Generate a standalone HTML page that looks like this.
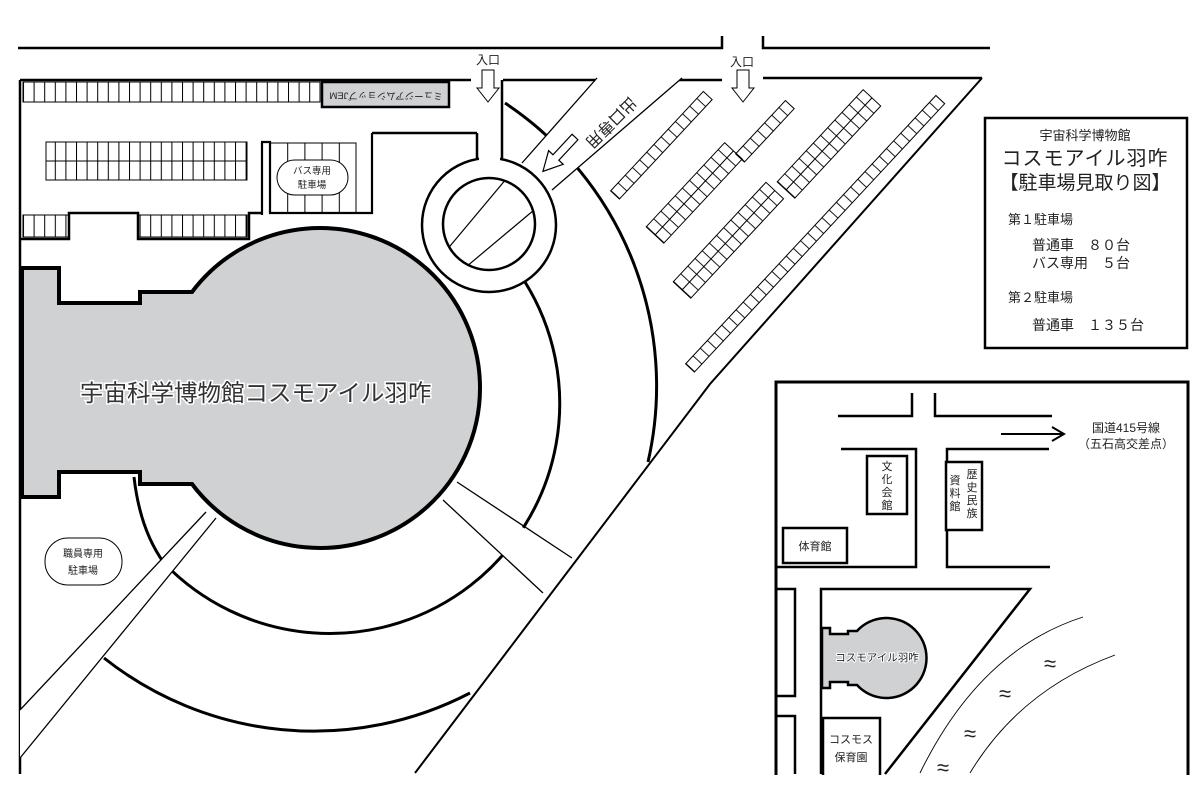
<!DOCTYPE html>
<html><head><meta charset="utf-8"><style>
html,body{margin:0;padding:0;background:#fff}
svg{display:block}
text{font-family:"Liberation Sans","Noto Sans CJK JP",sans-serif;fill:#222}
</style></head><body>
<svg width="1198" height="786" viewBox="0 0 1198 786" xmlns="http://www.w3.org/2000/svg">
<defs>
<pattern id="pt" patternUnits="userSpaceOnUse" x="23" y="0" width="10.6" height="200"><line x1="0.5" y1="0" x2="0.5" y2="200" stroke="#000" stroke-width="1"/></pattern>
<pattern id="pb" patternUnits="userSpaceOnUse" x="270" y="0" width="17.2" height="200"><line x1="0.5" y1="0" x2="0.5" y2="200" stroke="#000" stroke-width="1"/></pattern>
<pattern id="pd" patternUnits="userSpaceOnUse" x="0" y="0" width="10.5" height="200"><line x1="0.5" y1="-100" x2="0.5" y2="200" stroke="#000" stroke-width="0.9"/></pattern>
<clipPath id="inner"><circle cx="489" cy="224" r="46"/></clipPath>
</defs>
<g fill="none" stroke="#000" stroke-linecap="butt">
<path d="M18,48 H722 V36 M763,36 V48 H990" stroke-width="2.5"/>
<path d="M20,80 H471 M503,80 H722 M763,78 H982" stroke-width="2.5"/>
<polyline points="982,78 710,384 415,773" stroke-width="2"/>
<path d="M20,80 V774" stroke-width="2.5"/>
<path d="M505,103 A340 340 0 0 1 648,462" stroke-width="3"/>
<path d="M470,693 A338 338 0 0 1 104,658" stroke-width="3"/>
<path d="M525,282 A230 230 0 0 1 164,563 Q140,530 134,477" stroke-width="3"/>
</g>
<polygon points="597,78 682,78 552,190 522,163" fill="#fff"/>
<path d="M597,78 L522,163 M682,78 L552,190" stroke="#000" stroke-width="1.3" fill="none"/>
<polygon points="0,-4 28,-4 28,-10 47,0 28,10 28,4 0,4" transform="translate(575,137) rotate(133)" fill="#fff" stroke="#000" stroke-width="1.2"/>
<text transform="translate(630,96) rotate(135)" font-size="16">出口専用</text>
<path d="M477,133 V158 M502,80 V158" stroke="#000" stroke-width="2.5"/>
<path d="M372,133 H477" stroke="#000" stroke-width="2.5"/>
<circle cx="489" cy="225" r="67" fill="#fff" stroke="#000" stroke-width="2.5"/>
<rect x="479" y="153" width="21" height="10" fill="#fff"/>
<circle cx="489" cy="224" r="46" fill="#fff" stroke="#000" stroke-width="2.5"/>
<g clip-path="url(#inner)" stroke="#000" stroke-width="1.2">
<line x1="440" y1="258" x2="512" y2="172"/><line x1="460" y1="272" x2="540" y2="205"/>
</g>
<polygon points="457,482 570,560 543,593 443,500" fill="#fff"/>
<path d="M457,482 L572,558 M443,500 L543,593" stroke="#000" stroke-width="1.3" fill="none"/>
<polygon points="206,512 216,518 20,758 20,710" fill="#fff"/>
<path d="M206,512 L20,710 M216,518 L20,758" stroke="#000" stroke-width="1.3" fill="none"/>
<path d="M22,268 H59 V303 H140 V292 H192 A160 160 0 1 1 192,484 H140 V472 H59 V497 H22 Z" fill="#cfd1d3" stroke="#000" stroke-width="4"/>
<text x="80" y="401" font-size="23.5" stroke="#fff" stroke-width="3" paint-order="stroke" style="fill:#333">宇宙科学博物館コスモアイル羽咋</text>
<rect x="23" y="82" width="297" height="20" fill="url(#pt)" stroke="#000" stroke-width="1"/>
<rect x="322" y="82" width="127" height="25" fill="#cfd1d3" stroke="#000" stroke-width="2.5"/>
<text transform="translate(386,95) rotate(180)" font-size="9.5" text-anchor="middle" dominant-baseline="middle">ミュージアムショップJEM</text>
<rect x="46" y="142" width="201" height="38" fill="url(#pt)" stroke="#000" stroke-width="1"/>
<line x1="46" y1="161" x2="247" y2="161" stroke="#000" stroke-width="1"/>
<rect x="270" y="143" width="86" height="70" fill="url(#pb)" stroke="#000" stroke-width="1"/>
<path d="M262,215 V142 H270 V213 H372 V133" fill="none" stroke="#000" stroke-width="2.2"/>
<rect x="277" y="160" width="71" height="35" rx="17.5" fill="#fff" stroke="#000" stroke-width="1"/>
<text x="312" y="174" font-size="9.5" text-anchor="middle">バス専用</text>
<text x="312" y="188" font-size="9.5" text-anchor="middle">駐車場</text>
<rect x="23" y="215" width="46" height="22" fill="url(#pt)" stroke="#000" stroke-width="1"/>
<rect x="138" y="215" width="109" height="22" fill="url(#pt)" stroke="#000" stroke-width="1"/>
<path d="M20,239 H69 V213 H138 V239 H249 V213 H262" fill="none" stroke="#000" stroke-width="2.5"/>
<rect x="45" y="538" width="77" height="47" rx="23" fill="#fff" stroke="#000" stroke-width="1"/>
<text x="83" y="557" font-size="10" text-anchor="middle">職員専用</text>
<text x="83" y="574" font-size="10" text-anchor="middle">駐車場</text>
<text x="488" y="64" font-size="12" text-anchor="middle">入口</text>
<polygon points="482,70 494,70 494,88 499,88 488,102 477,88 482,88" fill="#fff" stroke="#000" stroke-width="1"/>
<text x="742" y="66" font-size="12" text-anchor="middle">入口</text>
<polygon points="737,70 749,70 749,88 754,88 743,102 732,88 737,88" fill="#fff" stroke="#000" stroke-width="1"/>
<g fill="url(#pd)" stroke="#000" stroke-width="1">
<rect transform="translate(615,195) rotate(-47)" x="0" y="-6" width="136" height="12"/>
<g transform="translate(655,235) rotate(-47)"><rect x="0" y="-12" width="115" height="24"/><line x1="0" y1="0" x2="115" y2="0"/></g>
<rect transform="translate(740,158) rotate(-47)" x="0" y="-6" width="73" height="12"/>
<g transform="translate(682,290) rotate(-47)"><rect x="0" y="-12" width="136" height="24"/><line x1="0" y1="0" x2="136" y2="0"/></g>
<g transform="translate(786,190) rotate(-47)"><rect x="0" y="-12" width="126" height="24"/><line x1="0" y1="0" x2="126" y2="0"/></g>
<rect transform="translate(690,368) rotate(-47)" x="0" y="-6" width="367" height="12"/>
</g>
<rect x="985" y="118" width="202" height="230" fill="#fff" stroke="#000" stroke-width="2.5"/>
<text x="1085" y="140" font-size="13" text-anchor="middle">宇宙科学博物館</text>
<text x="1085" y="165" font-size="20" text-anchor="middle" letter-spacing="1">コスモアイル羽咋</text>
<text x="1085" y="189" font-size="19" text-anchor="middle">【駐車場見取り図】</text>
<text x="1008" y="224" font-size="13">第１駐車場</text>
<text x="1032" y="250" font-size="14">普通車　８０台</text>
<text x="1032" y="268" font-size="14">バス専用　５台</text>
<text x="1008" y="302" font-size="13">第２駐車場</text>
<text x="1032" y="330" font-size="14">普通車　１３５台</text>
<path d="M776,775 V382 H1188 V775" fill="none" stroke="#000" stroke-width="3"/>
<g fill="none" stroke="#000" stroke-width="2.5">
<path d="M838,416 H912 V393 M935,393 V416 H1052"/>
<path d="M841,449 H916 V567 H776 M1049,449 H947 V567 H1050"/>
<path d="M776,589 H795 V696 H776 M776,716 H795 V774"/>
<path d="M821,774 V589 H1030 L885,774"/>
<path d="M1001,434 H1063 M1052,427 L1064,434 L1052,441" stroke-width="2"/>
</g>
<text x="1126" y="432" font-size="12" text-anchor="middle">国道415号線</text>
<text x="1126" y="448" font-size="12" text-anchor="middle">（五石高交差点）</text>
<rect x="867" y="456" width="40" height="58" fill="#fff" stroke="#000" stroke-width="2.5"/>
<text x="887" y="470" font-size="11" text-anchor="middle">文</text>
<text x="887" y="483" font-size="11" text-anchor="middle">化</text>
<text x="887" y="496" font-size="11" text-anchor="middle">会</text>
<text x="887" y="509" font-size="11" text-anchor="middle">館</text>
<rect x="946" y="462" width="36" height="68" fill="#fff" stroke="#000" stroke-width="2.5"/>
<text x="972" y="478" font-size="11" text-anchor="middle">歴</text>
<text x="972" y="491" font-size="11" text-anchor="middle">史</text>
<text x="972" y="504" font-size="11" text-anchor="middle">民</text>
<text x="972" y="517" font-size="11" text-anchor="middle">族</text>
<text x="955" y="484" font-size="11" text-anchor="middle">資</text>
<text x="955" y="497" font-size="11" text-anchor="middle">料</text>
<text x="955" y="510" font-size="11" text-anchor="middle">館</text>
<rect x="783" y="528" width="64" height="35" fill="#fff" stroke="#000" stroke-width="2.5"/>
<text x="815" y="550" font-size="11" text-anchor="middle">体育館</text>
<path d="M822,628 H830 V634 H848 V631 H857 A40 40 0 1 1 857,685 H848 V682 H830 V688 H822 Z" fill="#cfd1d3" stroke="#000" stroke-width="2.5"/>
<text x="877" y="661" font-size="10.5" text-anchor="middle" stroke="#fff" stroke-width="2" paint-order="stroke">コスモアイル羽咋</text>
<rect x="823" y="718" width="57" height="60" fill="#fff" stroke="#000" stroke-width="2.5"/>
<text x="851" y="743" font-size="11" text-anchor="middle">コスモス</text>
<text x="851" y="761" font-size="11" text-anchor="middle">保育園</text>
<path d="M1083,617 Q980,650 920,773 M1115,655 Q1020,690 970,773" fill="none" stroke="#000" stroke-width="0.9"/>
<g font-size="22" text-anchor="middle">
<text x="1050" y="671">≈</text><text x="1005" y="701">≈</text><text x="970" y="741">≈</text><text x="943" y="775">≈</text>
</g>
<rect x="0" y="775" width="1198" height="11" fill="#fff"/>
</svg>
</body></html>
